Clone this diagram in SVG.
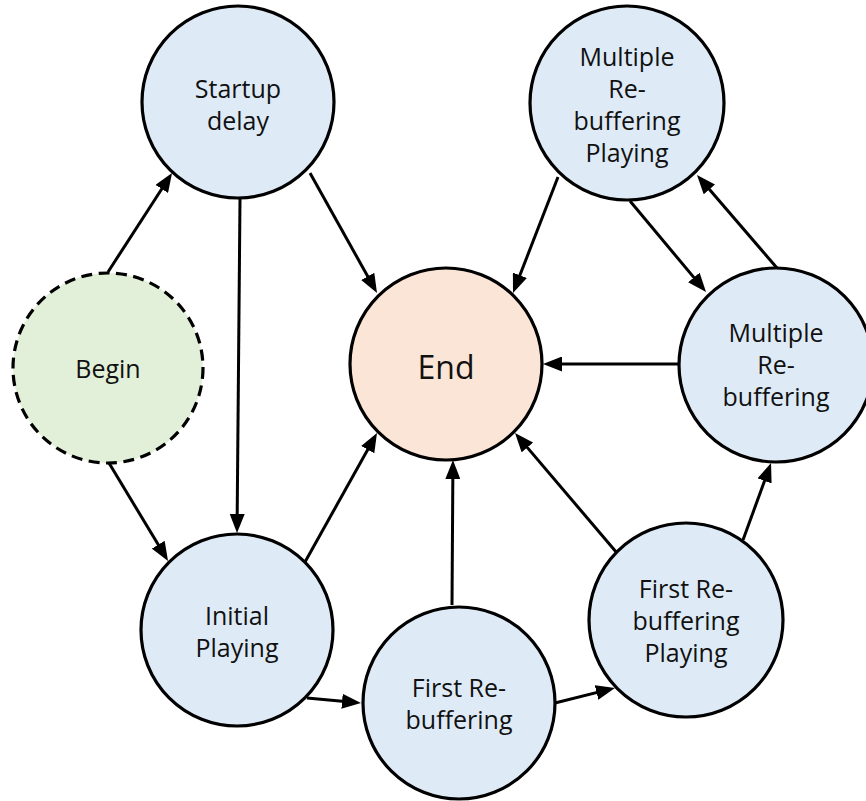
<svg xmlns="http://www.w3.org/2000/svg" width="866" height="801" viewBox="0 0 866 801">
  <style>
    .state { fill: #DEEBF7; stroke: #000; stroke-width: 3.2; }
    .start { fill: #E2F0D9; stroke: #000; stroke-width: 3.2; stroke-dasharray: 11 6.5; }
    .final { fill: #FBE5D6; stroke: #000; stroke-width: 3.2; }
    .label { font-family: "Open Sans", "Liberation Sans", sans-serif; font-size: 25px; fill: #111; text-anchor: middle; }
    .big { font-size: 32px; }
    .edge { stroke: #000; stroke-width: 3; fill: none; marker-end: url(#arrow); }
  </style>
  <defs>
    <marker id="arrow" viewBox="0 0 19 15" refX="11" refY="7.5" markerWidth="19" markerHeight="15" markerUnits="userSpaceOnUse" orient="auto">
      <path d="M0,0 L19,7.5 L0,15 z" fill="#000"/>
    </marker>
  </defs>

  <!-- state nodes -->
  <g id="startup-delay">
    <circle class="state" cx="238" cy="102" r="96"/>
    <text class="label" x="238" y="98">Startup</text>
    <text class="label" x="238" y="130">delay</text>
  </g>
  <g id="multiple-rebuffering-playing">
    <circle class="state" cx="627" cy="103" r="97"/>
    <text class="label" x="627" y="66">Multiple</text>
    <text class="label" x="627" y="98">Re-</text>
    <text class="label" x="627" y="130">buffering</text>
    <text class="label" x="627" y="162">Playing</text>
  </g>
  <g id="begin">
    <circle class="start" cx="108" cy="368" r="95"/>
    <text class="label" x="108" y="378">Begin</text>
  </g>
  <g id="end">
    <circle class="final" cx="446" cy="364" r="96"/>
    <text class="label big" x="446" y="379">End</text>
  </g>
  <g id="multiple-rebuffering">
    <circle class="state" cx="776" cy="365" r="97"/>
    <text class="label" x="776" y="342">Multiple</text>
    <text class="label" x="776" y="374">Re-</text>
    <text class="label" x="776" y="406">buffering</text>
  </g>
  <g id="initial-playing">
    <circle class="state" cx="237" cy="630" r="96"/>
    <text class="label" x="237" y="625">Initial</text>
    <text class="label" x="237" y="657">Playing</text>
  </g>
  <g id="first-rebuffering">
    <circle class="state" cx="459" cy="703" r="96"/>
    <text class="label" x="459" y="697">First Re-</text>
    <text class="label" x="459" y="729">buffering</text>
  </g>
  <g id="first-rebuffering-playing">
    <circle class="state" cx="686" cy="620" r="97"/>
    <text class="label" x="686" y="598">First Re-</text>
    <text class="label" x="686" y="630">buffering</text>
    <text class="label" x="686" y="662">Playing</text>
  </g>

  <!-- transitions -->
  <g id="connectors">
    <line class="edge" x1="108" y1="272" x2="167.7" y2="179.7"/>
    <line class="edge" x1="109" y1="463" x2="163.9" y2="554.1"/>
    <line class="edge" x1="240" y1="199" x2="237.1" y2="525"/>
    <line class="edge" x1="310" y1="173" x2="373.1" y2="286"/>
    <line class="edge" x1="558" y1="177" x2="515.9" y2="285.5"/>
    <line class="edge" x1="777" y1="268" x2="702.2" y2="181.1"/>
    <line class="edge" x1="630" y1="201" x2="700.9" y2="285.9"/>
    <line class="edge" x1="679" y1="364" x2="551" y2="364"/>
    <line class="edge" x1="305" y1="562" x2="373.1" y2="440"/>
    <line class="edge" x1="452" y1="605" x2="452.9" y2="468"/>
    <line class="edge" x1="617" y1="553" x2="520.2" y2="439.1"/>
    <line class="edge" x1="743" y1="540" x2="768.3" y2="470.5"/>
    <line class="edge" x1="307" y1="698" x2="353" y2="702.3"/>
    <line class="edge" x1="555" y1="703" x2="607.2" y2="689.9"/>
  </g>
</svg>
